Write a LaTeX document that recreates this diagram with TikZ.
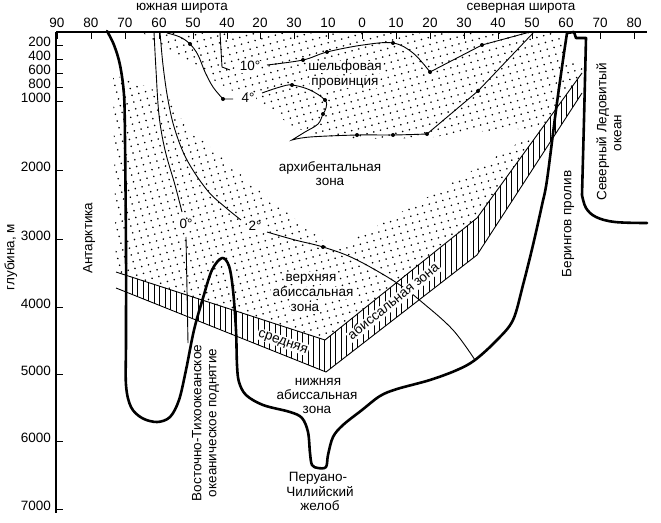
\documentclass[tikz,border=0pt]{standalone}
\usepackage{fontspec}
\setmainfont{Liberation Sans}
\usetikzlibrary{patterns.meta}
\begin{document}
\begin{tikzpicture}[x=1pt,y=-1pt,
  lbl/.style={font=\fontsize{13.5}{15}\selectfont, inner sep=0pt, text height=1.5ex, text depth=.25ex},
  wlbl/.style={lbl, fill=white, inner sep=1.2pt},
  coast/.style={line width=2.6pt, line join=round, line cap=round},
  iso/.style={line width=0.9pt},
  axisline/.style={line width=1.8pt},
  tickline/.style={line width=1pt},
  dotfill/.style={pattern={Dots[distance=7pt, radius=0.9pt, angle=15]}},
  hatchfill/.style={pattern={Lines[angle=90, distance=5.5pt, line width=0.9pt]}},
]
\useasboundingbox (0,0) rectangle (661,522);

% ---------- dotted areas ----------
\fill[dotfill] (143,33) -- (563,33) -- (563,63) -- (556,105) -- (543,128) -- (500,130)
  -- (460,133) -- (427,138) -- (357,139) -- (320,135) -- (295,128) -- (270,110) -- (240,95)
  -- (210,78) -- (185,60) -- (160,45) -- cycle;
\fill[dotfill] (113,75) -- (130,80) -- (150,88) -- (170,100) -- (185,125) -- (267,197)
  -- (335,250) -- (440,190) -- (543,128) -- (556,105) -- (563,63) -- (585,63)
  -- (582,73) -- (477,218) -- (325,340) -- (116,272) -- cycle;

% ---------- hatched band ----------
\fill[white] (126,275) -- (325,340) -- (477,218) -- (582,73) -- (582,93) -- (477,255) -- (326,372) -- (126,292) -- cycle;
\fill[hatchfill] (126,275) -- (325,340) -- (477,218) -- (582,73) -- (582,93) -- (477,255) -- (326,372) -- (126,292) -- cycle;
\draw[iso] (116,272) -- (325,340) -- (477,218) -- (582,73);
\draw[iso] (116,288) -- (326,372) -- (477,255) -- (582,93);

% ---------- axes ----------
\draw[axisline] (56,32) -- (647,32);
\draw[axisline] (56,32) -- (56,513);
\foreach \x/\t [count=\i] in {57/90, 91/80, 125/70, 159/60, 193/50, 227/40, 260/20, 294/30, 328/10,
   362/0, 396/10, 430/20, 464/30, 498/40, 532/50, 566/60, 600/70, 634/80} {
  \draw[tickline] (\x,32) -- (\x,39);
  \node[lbl] (tx\i) at (\x,24) {\t};
}
\foreach \d/\y in {200/43, 400/57, 600/71, 800/85, 1000/99, 2000/168, 3000/237,
   4000/305, 5000/372, 6000/439, 7000/507} {
  \draw[tickline] (56,\y+2) -- (63,\y+2);
  \node[lbl, anchor=east] (dp\d) at (51,\y) {\d};
}
\node[lbl] (south) at (182,7) {южная широта};
\node[lbl] (north) at (521,7) {северная широта};
\node[lbl, rotate=90] (depth) at (11,257) {глубина, м};

% ---------- isotherms ----------
% 0 deg
\draw[iso] plot[smooth, tension=0.6] coordinates {(154,32) (156,70) (159,115) (165,150) (175,185) (182,212)};
\draw[iso] (186,237) -- (187,290) -- (188,343);
\node[wlbl] (t0) at (186,225) {0°};
% 2 deg
\draw[iso] plot[smooth, tension=0.6] coordinates {(160,32) (163,65) (168,100) (175,130) (187,160) (207,190) (225,207) (241,220)};
\draw[iso] plot[smooth, tension=0.6] coordinates {(267,232) (295,240) (323,247) (355,259) (397,283) (423,303) (453,330) (475,360)};
\fill (323,247) circle (2pt);
\node[wlbl] (t2) at (255,227) {2°};
% 10 deg
\draw[iso] (220,32) -- (221,50) -- (222,67) -- (230,70);
\draw[iso] plot[smooth, tension=0.6] coordinates {(267,65) (303,60) (327,52) (363,45) (393,43) (413,53) (430,72)} -- (482,45) -- (530,32);
\foreach \p in {(303,60),(327,52),(393,43),(430,72),(482,45)} \fill \p circle (2pt);
\node[wlbl] (t10) at (250,67) {10°};
% 4 deg
\draw[iso] plot[smooth, tension=0.6] coordinates {(167,33) (180,37) (190,44) (198,55) (205,72) (213,87) (223,99)} -- (233,99);
\draw[iso] plot[smooth, tension=0.6] coordinates {(262,93) (280,87) (292,85) (310,90) (325,100) (326,108) (323,114) (318,124) (305,132) (292,140)}
   -- plot[smooth, tension=0.6] coordinates {(292,140) (310,137) (357,135) (393,135) (427,134)} -- (478,91) -- (534,32);
\foreach \p in {(190,44),(223,99),(292,85),(325,100),(323,114),(357,135),(393,135),(427,134),(478,91)} \fill \p circle (2pt);
\node[wlbl] (t4) at (248,99) {4°};

% ---------- sea floor ----------
\draw[coast] plot[smooth, tension=0.55] coordinates {
  (107,31) (114,45) (120,65) (124,95) (125,140) (126,250) (126,340) (126,385) (131,407)
  (142,418) (157,422) (170,417) (179,400) (186,370) (194,330) (203,298) (212,270) (222,258)
  (229,266) (233,290) (236,330) (237,365) (239,382) (246,395) (263,405) (290,412) (302,418)
  (308,432) (310,453) (312,465) (318,468) (326,467) (328,455) (333,437) (343,425) (362,410)
  (380,396) (397,389) (430,380) (457,370) (475,360) (497,340) (513,320) (523,285) (533,245)
  (542,205) (547,180) (556,110) (563,60) (567,33)}
  -- (574,32) -- (576,38) -- (586,38) -- (584,120) -- (582,195)
  -- plot[smooth, tension=0.6] coordinates {(582,195) (586,208) (596,217) (615,222) (647,223)};

% ---------- zone labels ----------
\node[wlbl] (sh1) at (345,67) {шельфовая};
\node[wlbl] (sh2) at (345,82) {провинция};
\node[lbl] (ar1) at (330,168) {архибентальная};
\node[lbl] (ar2) at (330,182) {зона};
\node[wlbl] (up1) at (311,278) {верхняя};
\node[wlbl] (up2) at (313,293) {абиссальная};
\node[wlbl] (up3) at (305,308) {зона};
\node[wlbl, rotate=-19] (mid1) at (283,342) {средняя};
\node[wlbl, rotate=39] (mid2) at (394,302) {абиссальная зона};
\node[lbl] (lo1) at (318,382) {нижняя};
\node[lbl] (lo2) at (317,396) {абиссальная};
\node[lbl] (lo3) at (317,410) {зона};
\node[lbl] (tr1) at (318,478) {Перуано-};
\node[lbl] (tr2) at (320,493) {Чилийский};
\node[lbl] (tr3) at (320,507) {желоб};
\node[lbl, rotate=90] (ant) at (89,238) {Антарктика};
\node[lbl, rotate=90] (epr1) at (198,423) {Восточно-Тихоокеанское};
\node[lbl, rotate=90] (epr2) at (213,423) {океаническое поднятие};
\node[lbl, rotate=90] (ber) at (568,224) {Берингов пролив};
\node[lbl, rotate=90] (arc1) at (603,132) {Северный Ледовитый};
\node[lbl, rotate=90] (arc2) at (618,133) {океан};
\end{tikzpicture}
\end{document}
